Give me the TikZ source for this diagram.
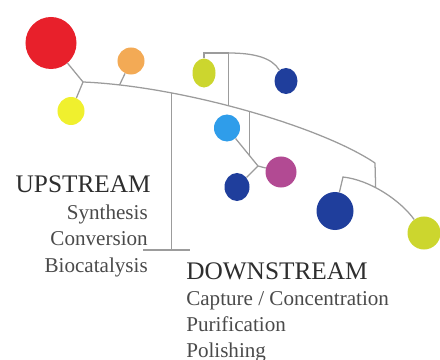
\documentclass[tikz,border=0pt]{standalone}
\usepackage{fontspec}
\setmainfont{Liberation Serif}
\usetikzlibrary{shapes.geometric}
\definecolor{hilo}{HTML}{9C9C9C}
\definecolor{tinta}{HTML}{2E2E2E}
\definecolor{tenue}{HTML}{4A4A4A}
\definecolor{rojo}{HTML}{E8202B}
\definecolor{naranja}{HTML}{F3AA55}
\definecolor{amarillo}{HTML}{F0F02E}
\definecolor{oliva}{HTML}{CCD62E}
\definecolor{marino}{HTML}{1F3E9C}
\definecolor{celeste}{HTML}{2F9DEA}
\definecolor{fucsia}{HTML}{B24A93}

\begin{document}
\begin{tikzpicture}[x=0.025cm, y=-0.025cm, font=\fontsize{15}{18}\selectfont,
		bola/.style={ellipse, inner sep=0pt, draw=none},
		varilla/.style={draw=hilo, line width=0.9pt},
		rotulo/.style={inner sep=0pt, text=tenue}]
				\useasboundingbox (0,0) rectangle (440,360);
				\foreach \n/\x/\y/\w/\h/\c in {roja/51/43/51/52/rojo, naranja/131/61/27/27/naranja,
					amarilla/71/111/27/28/amarillo, oliva1/204/73/23/29/oliva, azul1/286/81/23/26/marino,
					celeste/227/128/26/27/celeste, fucsia/281/172/31/31/fucsia, azul2/237/187/25/28/marino,
					azul3/335/211/37/38/marino, oliva2/424/233/33/33/oliva}
					\node[bola, fill=\c, minimum width=\w*0.25mm, minimum height=\h*0.25mm] (\n) at (\x,\y) {};
				\coordinate (j0) at (83,82);
				\coordinate (m1) at (375,163);
				\coordinate (t1) at (228,53);
				\coordinate (u0) at (143,250);
				\coordinate (u1) at (190,250);
				\coordinate (k) at (250,156);
				\coordinate (jb) at (258,166);
				\coordinate (s1) at (343,177);
				\draw[varilla] (roja) -- (j0) -- (amarilla);
				\draw[varilla] (j0) .. controls (180,86) and (320,126) .. coordinate[pos=0.12] (b1)
					coordinate[pos=0.28] (b2) coordinate[pos=0.45] (b3) coordinate[pos=0.515] (b4) (m1);
				\draw[varilla] (naranja) -- (b1);
				\draw[varilla] (b2) -- (b2 |- u0);
				\draw[varilla] (u0) -- (u1);
				\draw[varilla] (b3) -- (b3 |- t1) -- (oliva1 |- t1) -- (oliva1);
				\draw[varilla] (b3 |- t1) .. controls (255,53) and (272,58) .. (azul1);
				\draw[varilla] (b4) -- (b4 |- k);
				\draw[varilla] (celeste) -- (jb) -- (fucsia);
				\draw[varilla] (jb) -- (azul2);
				\draw[varilla] (azul3) -- (s1) .. controls (370,180) and (400,200) .. coordinate[pos=0.4] (s2) (oliva2);
				\draw[varilla] (m1) -- (s2);
				\node[rotulo, text=tinta, anchor=base east, font=\fontsize{18}{20}\selectfont] (up) at (151,192) {UPSTREAM};
				\node[rotulo, anchor=base east] (up1) at (148,219) {Synthesis};
				\node[rotulo, anchor=base east] (up2) at (148,245) {Conversion};
				\node[rotulo, anchor=base east] (up3) at (148,272) {Biocatalysis};
				\node[rotulo, text=tinta, anchor=base west, font=\fontsize{18}{20}\selectfont] (down) at (186,279) {DOWNSTREAM};
				\node[rotulo, anchor=base west] (down1) at (186,305) {Capture / Concentration};
				\node[rotulo, anchor=base west] (down2) at (186,331) {Purification};
				\node[rotulo, anchor=base west] (down3) at (186,357) {Polishing};
			\end{tikzpicture}
\end{document}
